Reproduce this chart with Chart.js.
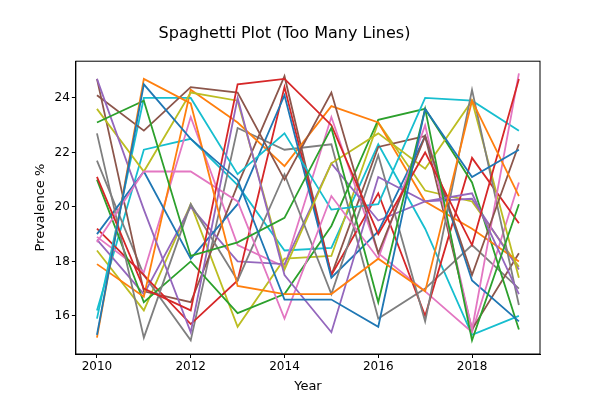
<!DOCTYPE html>
<html>
<head>
<script src="https://cdn.jsdelivr.net/npm/chart.js@4"></script>
<style>
  body { margin: 0; background: #fff; }
  #wrap { width: 600px; height: 400px; }
</style>
</head>
<body>
<div id="wrap"><canvas id="chart"></canvas></div>
<script>
// years on the x axis
const years = [2010, 2011, 2012, 2013, 2014, 2015, 2016, 2017, 2018, 2019];

// series (two lines per colour)
const blue1 = [15.3, 24.5, 22.5, 21.0, 16.6, 16.6, 15.6, 23.6, 21.1, 22.1];
const orange1 = [15.2, 24.7, 23.8, 17.1, 16.8, 16.8, 18.1, 16.9, 23.9, 20.4];
const green1 = [23.1, 23.9, 18.2, 18.7, 19.6, 22.9, 16.5, 23.6, 15.1, 20.1];
const red1 = [21.1, 17.0, 16.2, 24.5, 24.7, 23.0, 19.0, 22.0, 18.6, 24.7];
const purple1 = [24.7, 19.9, 15.4, 24.0, 17.5, 15.4, 21.1, 20.2, 20.5, 16.8];
const brown1 = [24.1, 22.8, 24.4, 24.2, 21.0, 24.2, 18.3, 22.6, 17.5, 22.3];
const pink1 = [18.7, 21.3, 21.3, 20.2, 15.9, 20.4, 18.1, 23.0, 15.5, 24.9];
const gray1 = [22.7, 15.2, 20.1, 17.3, 21.2, 16.8, 21.9, 15.8, 24.3, 16.4];
const olive1 = [23.6, 21.3, 24.2, 23.9, 17.7, 21.6, 22.7, 21.4, 23.9, 17.4];
const cyan1 = [15.9, 24.0, 24.0, 21.2, 22.7, 19.9, 20.1, 24.0, 23.9, 22.8];
const blue2 = [19.0, 21.3, 18.1, 20.1, 24.1, 17.4, 19.1, 22.6, 17.3, 15.8];
const orange2 = [17.9, 16.7, 24.3, 23.1, 21.5, 23.7, 23.1, 20.2, 19.2, 18.0];
const green2 = [21.0, 16.5, 18.0, 16.1, 16.8, 19.3, 23.2, 23.6, 20.9, 15.5];
const red2 = [19.2, 17.5, 15.7, 17.3, 24.4, 17.5, 20.5, 16.0, 21.8, 19.4];
const purple2 = [18.8, 16.8, 20.0, 18.0, 17.9, 21.6, 19.5, 20.2, 20.3, 17.7];
const brown2 = [24.7, 16.9, 16.5, 20.8, 24.8, 17.5, 22.2, 22.6, 15.5, 18.3];
const pink2 = [18.9, 17.6, 23.3, 18.6, 17.8, 23.3, 18.3, 16.9, 15.4, 20.9];
const gray2 = [21.7, 17.5, 15.1, 22.9, 22.1, 22.3, 15.9, 17.0, 18.6, 17.0];
const olive2 = [18.4, 16.2, 20.1, 15.6, 18.1, 18.2, 23.1, 20.6, 20.2, 17.8];
const cyan2 = [16.2, 22.1, 22.5, 20.8, 18.4, 18.5, 22.3, 19.2, 15.3, 16.0];

const seriesList = [blue1, orange1, green1, red1, purple1, brown1, pink1, gray1, olive1, cyan1,
                    blue2, orange2, green2, red2, purple2, brown2, pink2, gray2, olive2, cyan2];
const palette = ['#1f77b4', '#ff7f0e', '#2ca02c', '#d62728', '#9467bd',
                 '#8c564b', '#e377c2', '#7f7f7f', '#bcbd22', '#17becf'];

const datasets = seriesList.map((s, i) => ({
    data: s.map((v, j) => ({ x: years[j], y: v })),
    borderColor: palette[i % 10],
    borderWidth: 1.8,
    pointRadius: 0,
    tension: 0,
    fill: false
}));

Chart.defaults.font.family = 'DejaVu Sans';
Chart.defaults.color = '#000';

const tickGrid = { display: true, drawOnChartArea: false, drawTicks: true, tickLength: 4, color: '#000' };

new Chart(document.getElementById('chart'), {
    type: 'line',
    data: { datasets },
    options: {
        responsive: true,
        maintainAspectRatio: false,
        animation: false,
        layout: { padding: { left: 29, right: 60, top: 24, bottom: 2 } },
        plugins: {
            legend: { display: false },
            tooltip: { enabled: false },
            title: {
                display: true,
                text: 'Spaghetti Plot (Too Many Lines)',
                font: { size: 16, weight: 'normal' },
                padding: { top: 0, bottom: 18 }
            }
        },
        scales: {
            x: {
                type: 'linear',
                min: 2009.55,
                max: 2019.45,
                grid: tickGrid,
                border: { color: '#000' },
                ticks: { font: { size: 12 }, padding: 2, callback: v => String(v) },
                afterBuildTicks: axis => { axis.ticks = [2010, 2012, 2014, 2016, 2018].map(v => ({ value: v })); },
                title: { display: true, text: 'Year', font: { size: 13 }, padding: { top: 2 } }
            },
            y: {
                min: 14.6,
                max: 25.35,
                grid: tickGrid,
                border: { color: '#000' },
                ticks: { font: { size: 12 }, padding: 2 },
                afterBuildTicks: axis => { axis.ticks = [16, 18, 20, 22, 24].map(v => ({ value: v })); },
                title: { display: true, text: 'Prevalence %', font: { size: 13 } }
            }
        }
    },
    plugins: [{
        id: 'frame',
        afterDraw(chart) {
            const { ctx, chartArea: a } = chart;
            ctx.save();
            ctx.strokeStyle = '#000';
            ctx.lineWidth = 1;
            ctx.strokeRect(a.left, a.top, a.right - a.left, a.bottom - a.top);
            ctx.restore();
        }
    }]
});
</script>
</body>
</html>
